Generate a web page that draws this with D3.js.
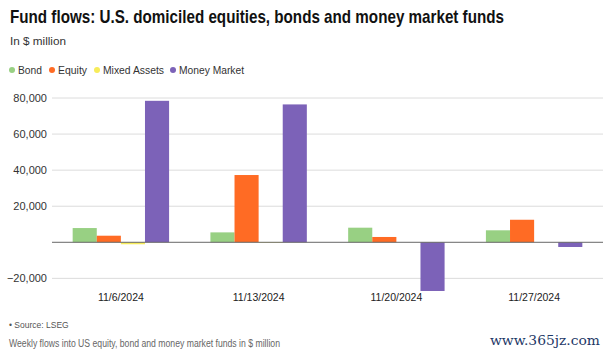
<!DOCTYPE html>
<html><head><meta charset="utf-8">
<script src="https://cdn.jsdelivr.net/npm/d3@7"></script>
<style>body{margin:0;background:#fff;}svg{display:block;font-family:"Liberation Sans",Arial,sans-serif;}</style>
</head><body>
<svg id="c" width="611" height="356"></svg>
<script>
const categories = ["11/6/2024","11/13/2024","11/20/2024","11/27/2024"];
const seriesNames = ["Bond","Equity","Mixed Assets","Money Market"];
const bond = [7900, 5500, 8100, 6650];
const equity = [3650, 37300, 2950, 12500];
const mixedAssets = [-1100, -300, 0, 0];
const moneyMarket = [78450, 76450, -27000, -2600];
const yTicks = [-20000, 0, 20000, 40000, 60000, 80000];
const colors = ["#98d083","#ff6b24","#f7ec5a","#7c62b8"];
const seriesValues = [bond, equity, mixedAssets, moneyMarket];

const svg = d3.select("#c");
const left = 52, right = 603;
const x = d3.scaleBand().domain(categories).range([left, right]).paddingInner(0.3).paddingOuter(0.15);
const xs = d3.scaleBand().domain(seriesNames).range([0, x.bandwidth()]);
const y = d3.scaleLinear().domain([-30000, 85000]).range([296.4, 89]);

// title
svg.append("text").attr("x",10).attr("y",23).attr("font-size",18.5).attr("font-weight","bold")
  .attr("fill","#111").attr("textLength",494).attr("lengthAdjust","spacingAndGlyphs")
  .text("Fund flows: U.S. domiciled equities, bonds and money market funds");
svg.append("text").attr("x",10).attr("y",45).attr("font-size",11.5).attr("fill","#333")
  .attr("textLength",56).attr("lengthAdjust","spacingAndGlyphs").text("In $ million");

// legend
const legX = [12, 52, 97, 173];
const legW = [24, 29, 61, 65];
seriesNames.forEach((n,i)=>{
  svg.append("circle").attr("cx",legX[i]).attr("cy",70).attr("r",3).attr("fill",colors[i]);
  svg.append("text").attr("x",legX[i]+6).attr("y",74).attr("font-size",11).attr("fill","#333")
    .attr("textLength",legW[i]).attr("lengthAdjust","spacingAndGlyphs").text(n);
});

// grid
const g = svg.append("g");
g.selectAll("line.grid").data(yTicks.filter(d=>d!==0)).join("line")
  .attr("x1",left).attr("x2",right).attr("y1",d=>y(d)).attr("y2",d=>y(d))
  .attr("stroke","#dcdcdc").attr("stroke-width",1);
const fmt = d3.format(",");
g.selectAll("text.yl").data(yTicks.filter(d=>d!==0)).join("text")
  .attr("x",47).attr("y",d=>y(d)+4).attr("text-anchor","end").attr("font-size",11).attr("fill","#333")
  .text(d=> d<0 ? "\u2212"+fmt(-d) : fmt(d));

// bars
categories.forEach((c,ci)=>{
  seriesValues.forEach((vals,si)=>{
    const v = vals[ci];
    g.append("rect").attr("x", x(c)+xs(seriesNames[si])).attr("width", xs.bandwidth())
      .attr("y", y(Math.max(0,v))).attr("height", Math.abs(y(v)-y(0)))
      .attr("fill", colors[si]);
  });
});
// zero line
g.append("line").attr("x1",left).attr("x2",right).attr("y1",y(0)).attr("y2",y(0)).attr("stroke","#666").attr("stroke-width",1);

// x labels
g.selectAll("text.xl").data(categories).join("text")
  .attr("x",d=>x(d)+x.bandwidth()/2).attr("y",301).attr("text-anchor","middle").attr("font-size",10.5).attr("fill","#222")
  .text(d=>d);

// footer
svg.append("text").attr("x",9).attr("y",328).attr("font-size",8.5).attr("fill","#555").text("\u2022 Source: LSEG");
svg.append("text").attr("x",9).attr("y",347).attr("font-size",10).attr("fill","#666")
  .attr("textLength",271).attr("lengthAdjust","spacingAndGlyphs")
  .text("Weekly flows into US equity, bond and money market funds in $ million");
svg.append("text").attr("x",490).attr("y",345).attr("font-size",13.5)
  .attr("font-family","'DejaVu Serif',serif").attr("fill","#1d3766")
  .attr("textLength",110).attr("lengthAdjust","spacingAndGlyphs").text("www.365jz.com");
</script>
</body></html>
